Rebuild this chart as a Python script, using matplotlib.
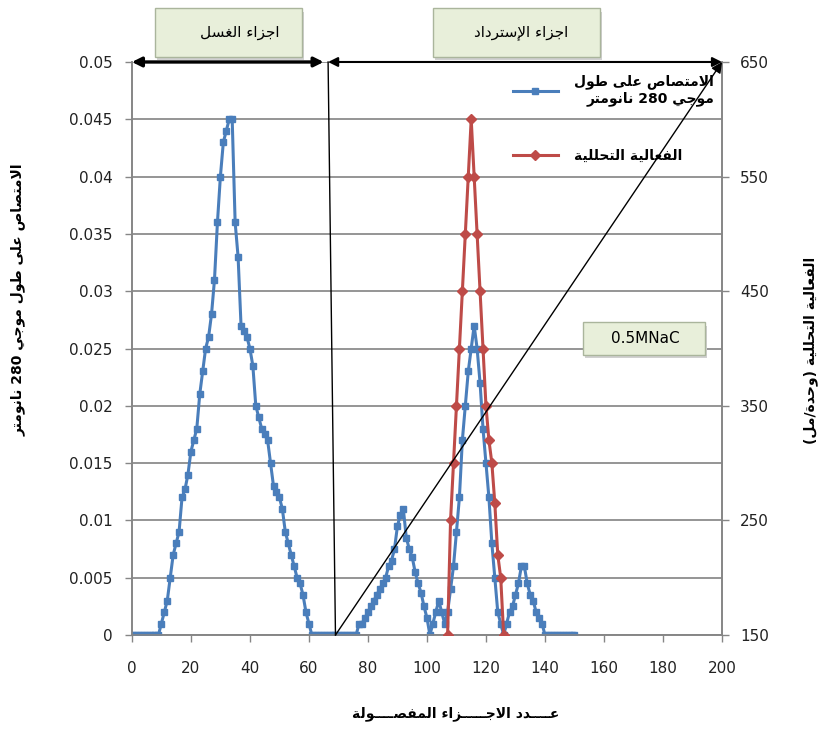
import re
import matplotlib
matplotlib.use("Agg")
import matplotlib.pyplot as plt
from matplotlib.patches import Rectangle
from matplotlib.ticker import FormatStrFormatter

# ---- data -------------------------------------------------------------
fraction_no = list(range(0, 151))
absorbance_280 = [
    0, 0, 0, 0, 0, 0, 0, 0, 0, 0,
    0.001, 0.002, 0.003, 0.005, 0.007, 0.008, 0.009, 0.012, 0.0127, 0.014,
    0.016, 0.017, 0.018, 0.021, 0.023, 0.025, 0.026, 0.028, 0.031, 0.036,
    0.040, 0.043, 0.044, 0.045, 0.045, 0.036, 0.033, 0.027, 0.0265, 0.026,
    0.025, 0.0235, 0.020, 0.019, 0.018, 0.0175, 0.017, 0.015, 0.013, 0.0125,
    0.012, 0.011, 0.009, 0.008, 0.007, 0.006, 0.005, 0.0045, 0.0035, 0.002,
    0.001, 0, 0, 0, 0, 0, 0, 0, 0, 0,
    0, 0, 0, 0, 0, 0, 0, 0.001, 0.001, 0.0015,
    0.002, 0.0025, 0.003, 0.0035, 0.004, 0.0045, 0.005, 0.006, 0.0065, 0.0075,
    0.0095, 0.0105, 0.011, 0.0085, 0.0075, 0.0068, 0.0055, 0.0045, 0.0037, 0.0025,
    0.0015, 0, 0.001, 0.002, 0.003, 0.002, 0.001, 0.002, 0.004, 0.006,
    0.009, 0.012, 0.017, 0.020, 0.023, 0.025, 0.027, 0.025, 0.022, 0.018,
    0.015, 0.012, 0.008, 0.005, 0.002, 0.001, 0, 0.001, 0.002, 0.0025,
    0.0035, 0.0045, 0.006, 0.006, 0.0045, 0.0035, 0.003, 0.002, 0.0015, 0.001,
    0, 0, 0, 0, 0, 0, 0, 0, 0, 0,
    0,
]

activity_fraction = list(range(107, 127))
activity_units = [150, 250, 300, 350, 400, 450, 500, 550, 600,
                  550, 500, 450, 400, 350, 320, 300, 265, 220, 200, 150]

x_ticks = list(range(0, 201, 20))
left_ticks = [i * 0.005 for i in range(11)]
right_ticks = [150, 250, 350, 450, 550, 650]

wash_end = 65          # end of the wash fractions
elution_start = 66.5   # start of the elution fractions
gradient_start = 69    # salt gradient starts here

# ---- arabic shaping (matplotlib does no contextual shaping itself) -----
# forms: isolated, final, initial, medial
FORMS = {
    '\u0621': ('\ufe80',),
    '\u0622': ('\ufe81', '\ufe82'),
    '\u0623': ('\ufe83', '\ufe84'),
    '\u0625': ('\ufe87', '\ufe88'),
    '\u0627': ('\ufe8d', '\ufe8e'),
    '\u0628': ('\ufe8f', '\ufe90', '\ufe91', '\ufe92'),
    '\u0629': ('\ufe93', '\ufe94'),
    '\u062a': ('\ufe95', '\ufe96', '\ufe97', '\ufe98'),
    '\u062c': ('\ufe9d', '\ufe9e', '\ufe9f', '\ufea0'),
    '\u062d': ('\ufea1', '\ufea2', '\ufea3', '\ufea4'),
    '\u062f': ('\ufea9', '\ufeaa'),
    '\u0631': ('\ufead', '\ufeae'),
    '\u0632': ('\ufeaf', '\ufeb0'),
    '\u0633': ('\ufeb1', '\ufeb2', '\ufeb3', '\ufeb4'),
    '\u0635': ('\ufeb9', '\ufeba', '\ufebb', '\ufebc'),
    '\u0637': ('\ufec1', '\ufec2', '\ufec3', '\ufec4'),
    '\u0639': ('\ufec9', '\ufeca', '\ufecb', '\ufecc'),
    '\u063a': ('\ufecd', '\ufece', '\ufecf', '\ufed0'),
    '\u0641': ('\ufed1', '\ufed2', '\ufed3', '\ufed4'),
    '\u0644': ('\ufedd', '\ufede', '\ufedf', '\ufee0'),
    '\u0645': ('\ufee1', '\ufee2', '\ufee3', '\ufee4'),
    '\u0646': ('\ufee5', '\ufee6', '\ufee7', '\ufee8'),
    '\u0647': ('\ufee9', '\ufeea', '\ufeeb', '\ufeec'),
    '\u0648': ('\ufeed', '\ufeee'),
    '\u0649': ('\ufeef', '\ufef0'),
    '\u064a': ('\ufef1', '\ufef2', '\ufef3', '\ufef4'),
    '\u0640': ('\u0640', '\u0640', '\u0640', '\u0640'),
}
LAM_ALEF = {
    '\u0627': ('\ufefb', '\ufefc'),
    '\u0623': ('\ufef7', '\ufef8'),
    '\u0625': ('\ufef9', '\ufefa'),
    '\u0622': ('\ufef5', '\ufef6'),
}


def shape_line(line):
    units = []
    i = 0
    while i < len(line):
        c = line[i]
        if c == '\u0644' and line[i + 1:i + 2] in LAM_ALEF and line[i + 1:i + 2]:
            units.append(LAM_ALEF[line[i + 1]])
            i += 2
            continue
        units.append(FORMS.get(c, c))
        i += 1

    out = []
    for k, u in enumerate(units):
        if isinstance(u, str):
            out.append(u)
            continue
        prev = units[k - 1] if k > 0 else None
        nxt = units[k + 1] if k + 1 < len(units) else None
        join_prev = len(u) > 1 and isinstance(prev, tuple) and len(prev) == 4
        join_next = len(u) == 4 and isinstance(nxt, tuple) and len(nxt) > 1
        if join_prev and join_next:
            out.append(u[3])
        elif join_next:
            out.append(u[2])
        elif join_prev:
            out.append(u[1])
        else:
            out.append(u[0])

    # right-to-left: reverse, but keep numbers / latin runs in reading order
    vis = ''.join(reversed(out))
    vis = re.sub(r'[0-9A-Za-z.]+', lambda m: m.group(0)[::-1], vis)
    return vis.translate(str.maketrans('()', ')('))


def ar(text):
    return '\n'.join(shape_line(l) for l in text.split('\n'))


# ---- figure ------------------------------------------------------------
plt.rcParams['font.family'] = ['DejaVu Sans']
BLUE = '#4a7ebb'
RED = '#be4b48'
GRID = '#8c8c8c'
AXIS = '#868686'

fig = plt.figure(figsize=(8.19, 7.31), dpi=100)
ax = fig.add_axes([0.161, 0.1313, 0.7206, 0.7839])
ax2 = ax.twinx()

blue_line, = ax.plot(fraction_no, absorbance_280, color=BLUE, lw=2.2,
                     marker='s', ms=5, mfc=BLUE, mec=BLUE, zorder=3)
red_line, = ax2.plot(activity_fraction, activity_units, color=RED, lw=2.2,
                     marker='D', ms=5.5, mfc=RED, mec=RED, zorder=3)

ax.set_xlim(0, 200)
ax.set_ylim(0, 0.05)
ax2.set_ylim(150, 650)
ax.set_xticks(x_ticks)
ax.set_yticks(left_ticks)
ax2.set_yticks(right_ticks)
ax.yaxis.set_major_formatter(FormatStrFormatter('%g'))

ax.set_axisbelow(True)
ax.yaxis.grid(True, color=GRID, lw=1.3)
for a in (ax, ax2):
    for side in ('left', 'right', 'bottom'):
        a.spines[side].set_color(AXIS)
        a.spines[side].set_linewidth(1.2)
    a.spines['top'].set_visible(False)
    a.tick_params(direction='out', length=5, width=1, color=AXIS,
                  labelsize=11, labelcolor='#222222')
ax.tick_params(axis='x', pad=14)
ax.tick_params(axis='y', pad=9)
ax2.tick_params(axis='y', pad=8)

ax.set_ylabel(ar('الامتصاص على طول موجي 280 نانومتر'), fontsize=10,
              fontweight='bold')
ax.yaxis.set_label_coords(-0.18, 0.585)
ax2.set_ylabel(ar('الفعالية التحللية (وحدة/مل)'), fontsize=10,
               fontweight='bold', rotation=90)
ax2.yaxis.set_label_coords(1.137, 0.497)
ax.set_xlabel(ar('عــــدد الاجـــــزاء المفصــــولة'), fontsize=10,
              fontweight='bold')
ax.xaxis.set_label_coords(0.549, -0.125)

# fraction ranges along the top
arrow_kw = dict(arrowstyle='<|-|>', color='black', mutation_scale=14,
                shrinkA=0, shrinkB=0)
ax2.annotate('', xy=(0, 0.05), xytext=(wash_end, 0.05),
             xycoords=ax.transData, textcoords=ax.transData,
             arrowprops=dict(lw=2.4, **arrow_kw), annotation_clip=False)
ax2.annotate('', xy=(elution_start, 0.05), xytext=(200, 0.05),
             xycoords=ax.transData, textcoords=ax.transData,
             arrowprops=dict(lw=1.5, **arrow_kw), annotation_clip=False)
ax2.plot([elution_start, gradient_start], [650, 150], color='black', lw=1,
         clip_on=False, zorder=4)
# NaCl gradient
ax2.annotate('', xy=(200, 0.05), xytext=(gradient_start, 0),
             xycoords=ax.transData, textcoords=ax.transData,
             arrowprops=dict(arrowstyle='-|>', color='black', lw=1,
                             mutation_scale=16, shrinkA=0, shrinkB=0),
             annotation_clip=False)


def label_box(x0, x1, y0, y1, text, tx):
    ax2.add_patch(Rectangle((x0 + 0.004, y0 - 0.006), x1 - x0, y1 - y0,
                            transform=ax2.transAxes, facecolor='#d0d0d0',
                            edgecolor='none', clip_on=False, zorder=5))
    ax2.add_patch(Rectangle((x0, y0), x1 - x0, y1 - y0,
                            transform=ax2.transAxes, facecolor='#e8efda',
                            edgecolor='#aab59c', lw=1, clip_on=False,
                            zorder=6))
    ax2.text(tx, (y0 + y1) / 2, text, transform=ax2.transAxes,
             ha='center', va='center', fontsize=11, zorder=7)


label_box(0.039, 0.288, 1.009, 1.094, ar('اجزاء الغسل'), 0.183)
label_box(0.510, 0.793, 1.009, 1.094, ar('اجزاء الإسترداد'), 0.66)
label_box(0.764, 0.971, 0.489, 0.546, '0.5MNaC', 0.87)

leg = ax2.legend([blue_line, red_line],
                 [ar('الامتصاص على طول\nموجي 280 نانومتر'),
                  ar('الفعالية التحللية')],
                 loc='upper left', bbox_to_anchor=(0.625, 1.0),
                 frameon=False, handlelength=3.2, handletextpad=1.2,
                 labelspacing=3.1, prop=dict(size=10, weight='bold'))
for t in leg.get_texts():
    t.set_multialignment('right')

fig.savefig('out.png', dpi=100, facecolor='white')
